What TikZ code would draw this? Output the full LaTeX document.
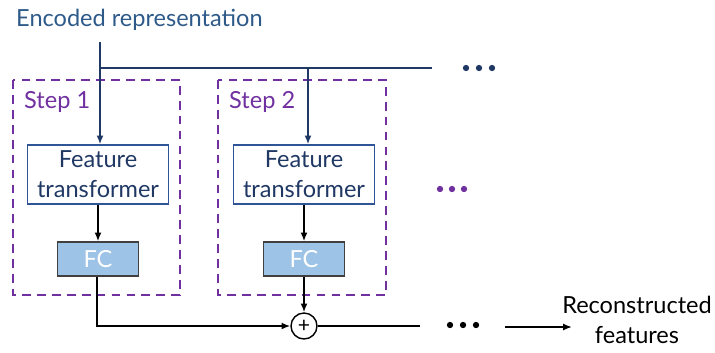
\documentclass[tikz,border=0pt]{standalone}
\usepackage{fontspec}
\setmainfont{Lato}
\usetikzlibrary{arrows.meta,positioning}

\definecolor{encblue}{HTML}{2E5A8A}
\definecolor{navy}{HTML}{1F3864}
\definecolor{boxblue}{HTML}{2F5597}
\definecolor{steppurple}{HTML}{7030A0}
\definecolor{fcfill}{HTML}{9DC3E6}

\begin{document}
\begin{tikzpicture}[x=0.02cm, y=-0.02cm, font=\fontsize{13.4}{16}\selectfont,
    ftbox/.style={draw=boxblue, thick, text=navy, align=center, minimum width=2.82cm, minimum height=1.18cm, inner sep=0pt},
    fcbox/.style={draw=black!75, thick, fill=fcfill, text=white, minimum width=1.62cm, minimum height=0.68cm, inner sep=0pt},
    stepbox/.style={draw=steppurple, thick, dashed, dash pattern=on 5pt off 3.5pt},
    feed/.style={draw=navy, line width=1.1pt, -{Latex[length=5pt,width=4pt]}},
    flow/.style={draw=black, line width=1.1pt, -{Latex[length=5pt,width=4pt]}}]
\useasboundingbox (0,0) rectangle (715,352);

\node[text=encblue, anchor=west] (enc) at (10,20) {Encoded representation};

% steps
\draw[stepbox] (13,80) rectangle (180,295);
\draw[stepbox] (218,80) rectangle (386,295);
\node[text=steppurple, anchor=west] (step1) at (18,102) {Step 1};
\node[text=steppurple, anchor=west] (step2) at (223,102) {Step 2};

\node[ftbox] (ft1) at (98,174.5) {Feature\\[1pt]transformer};
\node[ftbox] (ft2) at (304,174.5) {Feature\\[1pt]transformer};
\node[fcbox] (fc1) at (98,259) {FC};
\node[fcbox] (fc2) at (304,259) {FC};
\node[draw, circle, thick, minimum size=0.52cm, inner sep=0pt, font=\fontsize{12}{12}\selectfont] (sum) at (304,326) {+};

\coordinate (top) at (100,42);
\coordinate (split) at (100,68);
\coordinate (split2) at (308,68);
\coordinate (topend) at (432,68);
\coordinate (sumend) at (420,326);
\coordinate (outstart) at (505,327);
\coordinate (outend) at (572,327);
\node[align=center] (out) at (637,320) {Reconstructed\\[1pt]features};

% encoded representation feeds every step
\draw[navy, line width=1.1pt] (top) -- (split) -- (topend);
\draw[feed] (split) -- (ft1.north -| split);
\draw[feed] (split2) -- (ft2.north -| split2);

\draw[flow] (ft1) -- (fc1);
\draw[flow] (ft2) -- (fc2);
\draw[flow] (fc2) -- (sum);
\draw[flow] (fc1.south -| 97,0) |- (sum.west);
\draw[black, line width=1.1pt] (sum.east) -- (sumend);
\draw[flow] (outstart) -- (outend);

% dots
\foreach \x in {466,479,492} {
    \fill[navy] (\x,68) circle (1.8pt);
}
\foreach \x in {440,452,464} {
    \fill[steppurple] (\x,189) circle (1.8pt);
}
\foreach \x in {450,463,476} {
    \fill[black] (\x,325) circle (1.8pt);
}
\end{tikzpicture}
\end{document}
